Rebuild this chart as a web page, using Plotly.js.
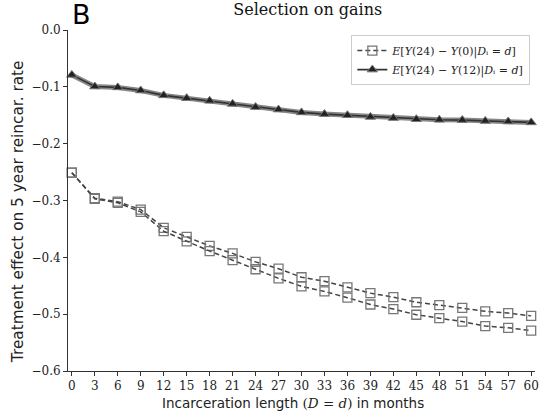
<!DOCTYPE html>
<html><head><meta charset="utf-8">
<script src="https://cdn.plot.ly/plotly-3.0.1.min.js"></script>
<style>html,body{margin:0;padding:0;background:#fff}#c{width:539px;height:413px}</style>
</head><body><div id="c"></div>
<script>
const months = [0,3,6,9,12,15,18,21,24,27,30,33,36,39,42,45,48,51,54,57,60];
const effUpper = [-0.251,-0.296,-0.302,-0.316,-0.348,-0.364,-0.380,-0.393,-0.408,-0.420,-0.435,-0.442,-0.453,-0.463,-0.470,-0.479,-0.484,-0.489,-0.495,-0.498,-0.503];
const effLower = [-0.251,-0.297,-0.304,-0.320,-0.354,-0.372,-0.389,-0.405,-0.421,-0.437,-0.451,-0.460,-0.471,-0.483,-0.491,-0.501,-0.507,-0.513,-0.521,-0.524,-0.529];
const eff12 = [-0.079,-0.0995,-0.101,-0.1065,-0.115,-0.120,-0.1246,-0.130,-0.1357,-0.140,-0.145,-0.148,-0.150,-0.153,-0.155,-0.157,-0.158,-0.1585,-0.160,-0.161,-0.1626];
const xTicks = months;
const yTicks = [0,-0.1,-0.2,-0.3,-0.4,-0.5,-0.6];
const yTickText = ['0.0','−0.1','−0.2','−0.3','−0.4','−0.5','−0.6'];

const serif = 'DejaVu Serif, Liberation Serif, serif';
const sans = 'DejaVu Sans, sans-serif';
const lab0 = '<i>E</i>[<i>Y</i>(24) − <i>Y</i>(0)|<i>D</i>ᵢ = <i>d</i>]';
const lab12 = '<i>E</i>[<i>Y</i>(24) − <i>Y</i>(12)|<i>D</i>ᵢ = <i>d</i>]';
const xTitle = 'Incarceration length <span style="font-family:DejaVu Serif">(<i>D</i> = <i>d</i>)</span> in months';
const yTitle = 'Treatment effect on 5 year reincar. rate';

const sq = {symbol:'square-open', size:9, color:'#777', line:{width:1.3, color:'#777'}};
const traces = [
  {x:months, y:effUpper, mode:'lines+markers', name:lab0, legendgroup:'a',
   line:{color:'#444', width:1.5, dash:'5px,3px'}, marker:sq, cliponaxis:false},
  {x:months, y:effLower, mode:'lines+markers', name:lab0, showlegend:false, legendgroup:'a',
   line:{color:'#444', width:1.5, dash:'5px,3px'}, marker:sq, cliponaxis:false},
  {x:months, y:eff12, mode:'lines', showlegend:false, hoverinfo:'skip',
   line:{color:'#888', width:5}, cliponaxis:false},
  {x:months, y:eff12, mode:'lines+markers', name:lab12,
   line:{color:'#333', width:1.6},
   marker:{symbol:'triangle-up', size:9, color:'#222', line:{width:1, color:'#777'}}, cliponaxis:false}
];

const layout = {
  width:539, height:413,
  margin:{l:68, r:4, t:30, b:42},
  paper_bgcolor:'#fff', plot_bgcolor:'#fff',
  showlegend:true,
  title:{text:'Selection on gains', font:{family:serif, size:16, color:'#111'}, x:0.571, xref:'container', xanchor:'center', y:0.992, yref:'container', yanchor:'top'},
  xaxis:{range:[-0.5,60.5], tickvals:xTicks, ticktext:xTicks.map(String), showgrid:false, zeroline:false,
    showline:true, linecolor:'#333', linewidth:1, ticks:'outside', ticklen:4, tickcolor:'#333',
    tickfont:{family:serif, size:12, color:'#222'}},
  yaxis:{range:[-0.6,0], tickvals:yTicks, ticktext:yTickText, showgrid:false, zeroline:false,
    showline:true, linecolor:'#333', linewidth:1, ticks:'outside', ticklen:4, tickcolor:'#333',
    tickfont:{family:serif, size:12, color:'#222'}},
  legend:{x:0.99, xanchor:'right', y:0.985, yanchor:'top', bgcolor:'rgba(255,255,255,0.9)', bordercolor:'#ccc', borderwidth:1,
    font:{family:serif, size:11, color:'#222'}, tracegroupgap:0, itemwidth:30},
  annotations:[
    {text:'B', xref:'paper', yref:'paper', x:0.004, y:1.097, xanchor:'left', yanchor:'top', showarrow:false,
     font:{family:sans, size:27, color:'#000'}},
    {text:xTitle, xref:'paper', yref:'paper', x:0.482, y:-0.094, xanchor:'center', yanchor:'middle', showarrow:false,
     font:{family:sans, size:13.5, color:'#222'}},
    {text:yTitle, xref:'paper', yref:'paper', x:-0.107, y:0.466, xanchor:'center', yanchor:'middle', showarrow:false, textangle:-90,
     font:{family:sans, size:15.3, color:'#222'}}
  ]
};
Plotly.newPlot('c', traces, layout, {displayModeBar:false, staticPlot:true});
</script></body></html>
